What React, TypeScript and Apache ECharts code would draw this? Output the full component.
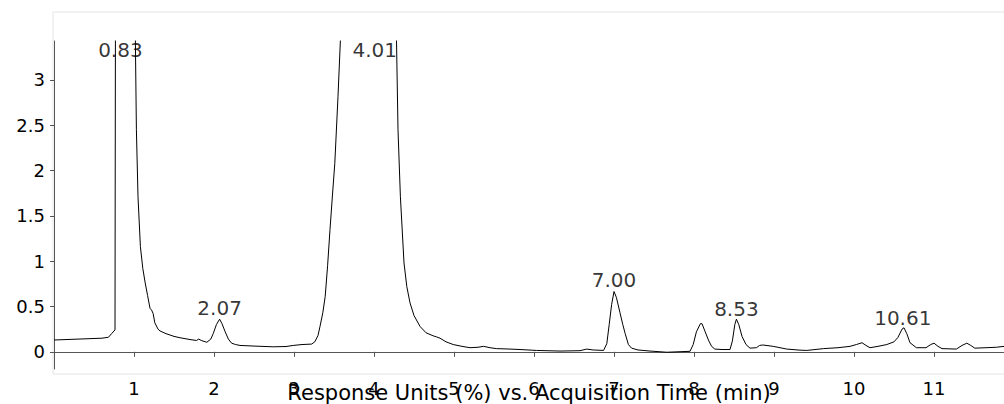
import React, { useEffect, useRef } from "react";
import * as echarts from "echarts";

// Chromatogram trace: acquisition time (min) and response (%)
const times: number[] = [
  0, 0.3, 0.6, 0.68, 0.72, 0.75, 0.7625, 0.768, 0.83, 1.015, 1.03, 1.05, 1.08, 1.11, 1.14, 1.17, 1.2, 1.22, 1.24, 1.26,
  1.3, 1.325, 1.4, 1.5, 1.575, 1.7, 1.78, 1.81, 1.84, 1.91, 1.96, 1.99, 2.03, 2.07, 2.1, 2.14, 2.18, 2.22, 2.27, 2.325,
  2.5, 2.74, 2.9, 2.99, 3.1, 3.22, 3.26, 3.3, 3.325, 3.36, 3.39, 3.42, 3.45, 3.48, 3.51, 3.55, 3.58, 4.01, 4.28, 4.3,
  4.33, 4.375, 4.41, 4.45, 4.5, 4.575, 4.65, 4.74, 4.78, 4.825, 4.9, 4.99, 5.1, 5.2, 5.3, 5.37, 5.45, 5.53, 5.7, 5.825,
  6.03, 6.325, 6.575, 6.66, 6.74, 6.87, 6.91, 6.94, 6.97, 7.0, 7.03, 7.075, 7.11, 7.14, 7.18, 7.22, 7.3, 7.45, 7.66, 7.8,
  7.95, 7.99, 8.03, 8.08, 8.1, 8.14, 8.18, 8.22, 8.26, 8.35, 8.45, 8.48, 8.51, 8.53, 8.56, 8.6, 8.65, 8.7, 8.78, 8.82,
  8.86, 8.99, 9.16, 9.325, 9.41, 9.62, 9.8, 9.95, 10.03, 10.1, 10.15, 10.2, 10.3, 10.41, 10.5, 10.55, 10.6, 10.625, 10.66, 10.7,
  10.78, 10.9, 10.96, 11.0, 11.05, 11.1, 11.28, 11.35, 11.41, 11.46, 11.51, 11.65, 11.78, 11.875,
];
const responses: number[] = [
  0.13, 0.14, 0.15, 0.16, 0.2, 0.23, 0.24, 3.6, 30, 3.6, 2.45, 1.71, 1.16, 0.92, 0.76, 0.62, 0.48, 0.46, 0.42, 0.32,
  0.25, 0.23, 0.2, 0.17, 0.155, 0.135, 0.125, 0.14, 0.125, 0.105, 0.14, 0.2, 0.3, 0.36, 0.31, 0.22, 0.14, 0.095, 0.08, 0.07,
  0.063, 0.055, 0.058, 0.07, 0.08, 0.085, 0.11, 0.18, 0.28, 0.43, 0.61, 0.95, 1.35, 1.72, 2.08, 2.82, 3.44, 100, 3.5, 2.45,
  1.71, 0.98, 0.72, 0.54, 0.4, 0.28, 0.21, 0.176, 0.165, 0.15, 0.11, 0.08, 0.06, 0.045, 0.05, 0.06, 0.045, 0.035, 0.03, 0.025,
  0.015, 0.008, 0.012, 0.03, 0.02, 0.015, 0.09, 0.3, 0.52, 0.665, 0.6, 0.43, 0.3, 0.2, 0.08, 0.04, 0.02, 0.008, -0.005, 0.0,
  0.005, 0.08, 0.22, 0.31, 0.31, 0.22, 0.13, 0.06, 0.03, 0.025, 0.025, 0.12, 0.3, 0.36, 0.3, 0.17, 0.08, 0.04, 0.045, 0.07,
  0.075, 0.06, 0.03, 0.018, 0.015, 0.035, 0.045, 0.06, 0.08, 0.1, 0.07, 0.045, 0.06, 0.08, 0.11, 0.16, 0.25, 0.265, 0.2, 0.1,
  0.045, 0.045, 0.08, 0.095, 0.06, 0.035, 0.03, 0.07, 0.095, 0.07, 0.04, 0.045, 0.05, 0.06,
];

// Peak annotations: retention time and label height (response units)
const peakTimes: number[] = [0.83, 2.07, 4.01, 7.0, 8.53, 10.61];
const peakLabelLevels: number[] = [3.33, 0.485, 3.33, 0.79, 0.47, 0.375];

const xTickValues: number[] = [0, 1, 2, 3, 4, 5, 6, 7, 8, 9, 10, 11];
const xLabelValues: number[] = [1, 2, 3, 4, 5, 6, 7, 8, 9, 10, 11];
const yTickValues: number[] = [0, 0.5, 1, 1.5, 2, 2.5, 3];

const FONT = "DejaVu Sans";

export default function App() {
  const ref = useRef<HTMLDivElement>(null);
  useEffect(() => {
    if (!ref.current) return;
    const chart = echarts.init(ref.current, null, { renderer: "svg" });
    const traceData = times.map((t, i) => [t, responses[i]]);
    const peakData = peakTimes.map((t, i) => [t, peakLabelLevels[i]]);
    chart.setOption({
      animation: false,
      backgroundColor: "#ffffff",
      graphic: [
        {
          type: "rect",
          shape: { x: 53, y: 12, width: 980, height: 362 },
          style: { fill: "none", stroke: "#e4e4e4", lineWidth: 1 },
          z: -1,
          silent: true,
        },
      ],
      grid: { left: 54, right: 0, top: 41, bottom: 35, containLabel: false, outerBoundsMode: "none" },
      xAxis: {
        type: "value",
        min: 0,
        max: 11.875,
        interval: 1,
        offset: 4,
        name: "Response Units (%) vs. Acquisition Time (min)",
        nameLocation: "middle",
        nameGap: 10,
        nameMoveOverlap: false,
        nameTextStyle: { fontFamily: FONT, fontSize: 21, color: "#000", lineHeight: 20 },
        axisLine: { show: true, lineStyle: { color: "#555", width: 1 } },
        axisTick: { show: true, length: 5, customValues: xTickValues, lineStyle: { color: "#555" } },
        axisLabel: {
          customValues: xLabelValues,
          fontFamily: FONT,
          fontSize: 18,
          color: "#000",
          margin: 6,
        },
        splitLine: { show: false },
      },
      yAxis: {
        type: "value",
        min: -0.19,
        max: 3.43,
        offset: 2,
        axisLine: { show: true, lineStyle: { color: "#555", width: 1 } },
        axisTick: { show: true, length: 4, customValues: yTickValues, lineStyle: { color: "#555" } },
        axisLabel: {
          customValues: yTickValues,
          fontFamily: FONT,
          fontSize: 18,
          color: "#000",
          margin: 7,
        },
        splitLine: { show: false },
      },
      series: [
        {
          type: "line",
          data: traceData,
          showSymbol: false,
          symbol: "none",
          lineStyle: { color: "#000", width: 1 },
          clip: true,
          silent: true,
        },
        {
          type: "scatter",
          data: peakData,
          symbolSize: 0,
          silent: true,
          z: 5,
          label: {
            show: true,
            position: "inside",
            formatter: (p: any) => (p.value[0] as number).toFixed(2),
            fontFamily: FONT,
            fontSize: 20,
            color: "#000",
          },
        },
      ],
    });
    return () => chart.dispose();
  }, []);
  return (
    <div
      ref={ref}
      style={{ position: "fixed", left: 0, top: 0, width: 1004, height: 404, background: "#fff" }}
    />
  );
}
